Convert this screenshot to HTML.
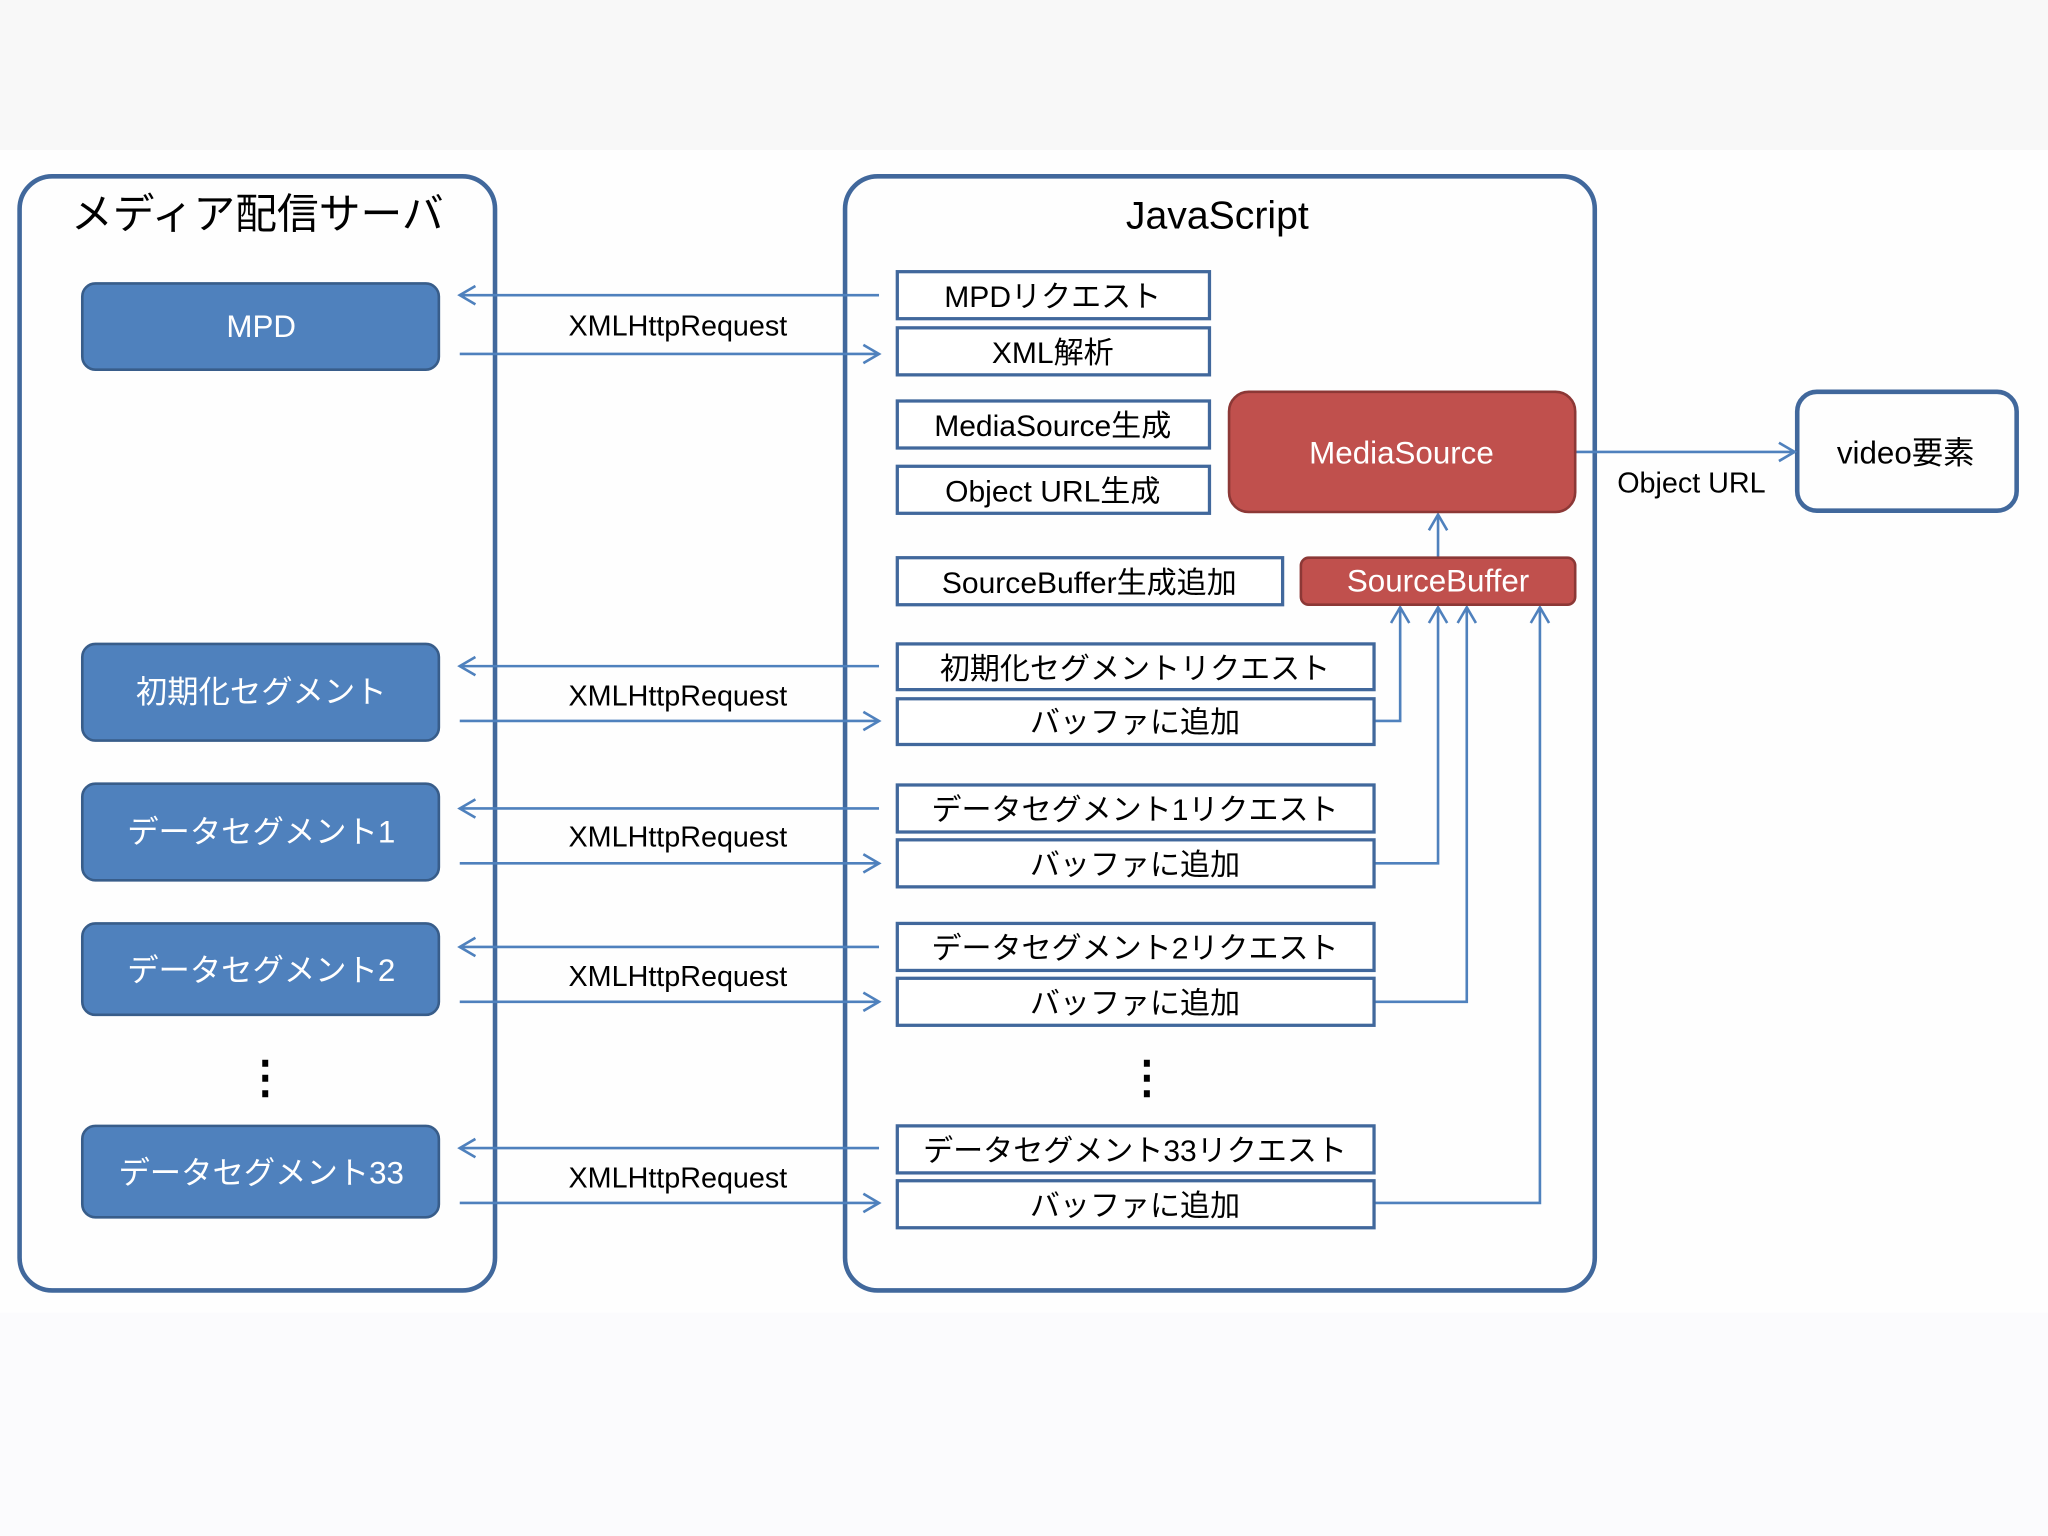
<!DOCTYPE html>
<html><head><meta charset="utf-8"><style>
html,body{margin:0;padding:0;background:#fff}
svg{display:block}
text{font-family:"Liberation Sans","Noto Sans CJK JP",sans-serif}
</style></head><body>
<svg width="2048" height="1536" viewBox="0 0 1568 1176" xmlns="http://www.w3.org/2000/svg">
<defs>
<marker id="a" markerWidth="16" markerHeight="16" refX="13" refY="8" orient="auto" markerUnits="userSpaceOnUse">
<path d="M1,1 L13,8 L1,15" fill="none" stroke="#4f81bd" stroke-width="2"/></marker>
</defs>
<rect x="0" y="0" width="1568" height="115" fill="#f8f8f8"/>
<rect x="0" y="115" width="1568" height="1061" fill="#fefefe"/>
<rect x="0" y="1005" width="1568" height="171" fill="#fbfbfd"/>

<g fill="none" stroke="#41689c" stroke-width="3.5">
<rect x="15" y="135" width="364" height="853" rx="25"/>
<rect x="647" y="135" width="574" height="853" rx="25"/>
<rect x="1376" y="300" width="168" height="91" rx="15"/>
</g>
<text x="197" y="175" font-size="32" text-anchor="middle">メディア配信サーバ</text>
<text x="932" y="175" font-size="30" text-anchor="middle">JavaScript</text>

<g fill="#4f81bd" stroke="#385d8a" stroke-width="2">
<rect x="63" y="217" width="273" height="66" rx="10"/>
<rect x="63" y="493" width="273" height="74" rx="10"/>
<rect x="63" y="600" width="273" height="74" rx="10"/>
<rect x="63" y="707" width="273" height="70" rx="10"/>
<rect x="63" y="862" width="273" height="70" rx="10"/>
</g>
<g fill="#fff" font-size="24" text-anchor="middle">
<text x="200" y="258">MPD</text>
<text x="200" y="538">初期化セグメント</text>
<text x="200" y="645">データセグメント1</text>
<text x="200" y="751">データセグメント2</text>
<text x="200" y="906">データセグメント33</text>
</g>
<text x="203" y="836" font-size="34" text-anchor="middle" font-weight="bold">⋮</text>
<text x="878" y="836" font-size="34" text-anchor="middle" font-weight="bold">⋮</text>

<g stroke="#4f81bd" stroke-width="2" fill="none" marker-end="url(#a)">
<line x1="673" y1="226" x2="352" y2="226"/><line x1="352" y1="271" x2="673" y2="271"/>
<line x1="673" y1="510" x2="352" y2="510"/><line x1="352" y1="552" x2="673" y2="552"/>
<line x1="673" y1="619" x2="352" y2="619"/><line x1="352" y1="661" x2="673" y2="661"/>
<line x1="673" y1="725" x2="352" y2="725"/><line x1="352" y1="767" x2="673" y2="767"/>
<line x1="673" y1="879" x2="352" y2="879"/><line x1="352" y1="921" x2="673" y2="921"/>
<line x1="1101" y1="427" x2="1101" y2="394"/>
<polyline points="1052,552 1072,552 1072,465"/>
<polyline points="1052,661 1101,661 1101,465"/>
<polyline points="1052,767 1123,767 1123,465"/>
<polyline points="1052,921 1179,921 1179,465"/>
<line x1="1206" y1="346" x2="1374" y2="346"/>
</g>
<g font-size="22" text-anchor="middle">
<text x="519" y="257">XMLHttpRequest</text>
<text x="519" y="540">XMLHttpRequest</text>
<text x="519" y="648">XMLHttpRequest</text>
<text x="519" y="755">XMLHttpRequest</text>
<text x="519" y="909">XMLHttpRequest</text>
<text x="1295" y="377">Object URL</text>
</g>

<g fill="#fff" stroke="#41689c" stroke-width="2.5">
<rect x="687" y="208" width="239" height="36"/>
<rect x="687" y="251" width="239" height="36"/>
<rect x="687" y="307" width="239" height="36"/>
<rect x="687" y="357" width="239" height="36"/>
<rect x="687" y="427" width="295" height="36"/>
<rect x="687" y="493" width="365" height="35"/>
<rect x="687" y="535" width="365" height="35"/>
<rect x="687" y="601" width="365" height="36"/>
<rect x="687" y="643" width="365" height="36"/>
<rect x="687" y="707" width="365" height="36"/>
<rect x="687" y="749" width="365" height="36"/>
<rect x="687" y="862" width="365" height="36"/>
<rect x="687" y="904" width="365" height="36"/>
</g>
<g fill="#c0504d" stroke="#8c3836" stroke-width="2">
<rect x="941" y="300" width="265" height="92" rx="15"/>
<rect x="996" y="427" width="210" height="36" rx="6"/>
</g>
<g font-size="23" text-anchor="middle">
<text x="806" y="235">MPDリクエスト</text>
<text x="806" y="278">XML解析</text>
<text x="806" y="334">MediaSource生成</text>
<text x="806" y="384">Object URL生成</text>
<text x="834" y="454">SourceBuffer生成追加</text>
<text x="869" y="520">初期化セグメントリクエスト</text>
<text x="869" y="561">バッファに追加</text>
<text x="869" y="628">データセグメント1リクエスト</text>
<text x="869" y="670">バッファに追加</text>
<text x="869" y="734">データセグメント2リクエスト</text>
<text x="869" y="776">バッファに追加</text>
<text x="869" y="889">データセグメント33リクエスト</text>
<text x="869" y="931">バッファに追加</text>
<text x="1459" y="355" font-size="24">video要素</text>
</g>
<g fill="#fff" font-size="24" text-anchor="middle">
<text x="1073" y="355">MediaSource</text>
<text x="1101" y="453">SourceBuffer</text>
</g>
</svg>
</body></html>
